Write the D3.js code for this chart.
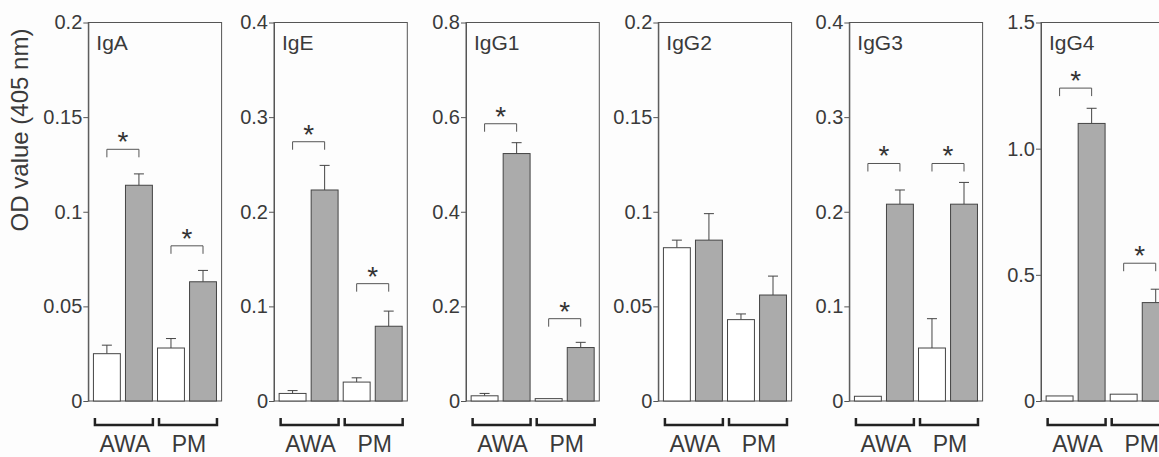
<!DOCTYPE html>
<html>
<head>
<meta charset="utf-8">
<script src="https://cdn.jsdelivr.net/npm/d3@7"></script>
<style>
  html, body { margin: 0; padding: 0; background: #fdfdfd; overflow: hidden; }
  svg { display: block; font-family: Arial, "Liberation Sans", sans-serif; }
</style>
</head>
<body>
<div id="chart"></div>
<script>
// Data
const panels = ['IgA', 'IgE', 'IgG1', 'IgG2', 'IgG3', 'IgG4'];
const groups = ['AWA', 'PM'];
const yMax = [0.2, 0.4, 0.8, 0.2, 0.4, 1.5];
const tickValues = [
  [0, 0.05, 0.1, 0.15, 0.2],
  [0, 0.1, 0.2, 0.3, 0.4],
  [0, 0.2, 0.4, 0.6, 0.8],
  [0, 0.05, 0.1, 0.15, 0.2],
  [0, 0.1, 0.2, 0.3, 0.4],
  [0, 0.5, 1.0, 1.5]
];
const tickLabels = [
  ['0', '0.05', '0.1', '0.15', '0.2'],
  ['0', '0.1', '0.2', '0.3', '0.4'],
  ['0', '0.2', '0.4', '0.6', '0.8'],
  ['0', '0.05', '0.1', '0.15', '0.2'],
  ['0', '0.1', '0.2', '0.3', '0.4'],
  ['0', '0.5', '1.0', '1.5']
];
// white bars (control), per panel: [AWA, PM]
const controlMean = [[0.025, 0.028], [0.008, 0.020], [0.011, 0.005], [0.081, 0.043], [0.005, 0.056], [0.020, 0.027]];
const controlErr  = [[0.0045, 0.005], [0.003, 0.0045], [0.005, 0], [0.004, 0.003], [0, 0.031], [0, 0]];
// grey bars (exposed), per panel: [AWA, PM]
const exposedMean = [[0.114, 0.063], [0.223, 0.079], [0.523, 0.113], [0.085, 0.056], [0.208, 0.208], [1.10, 0.39]];
const exposedErr  = [[0.006, 0.006], [0.026, 0.016], [0.023, 0.011], [0.014, 0.010], [0.015, 0.023], [0.06, 0.053]];
// significance bracket level (axis units), null = none
const sigLevel = [[0.133, 0.082], [0.274, 0.124], [0.586, 0.174], [null, null], [0.251, 0.251], [1.24, 0.546]];

const W = 1159, H = 457;
const panelX = [88.3, 274, 466, 658.3, 849.3, 1041];
const panelW = 133.3;
const plotTop = 22.5, plotBottom = 401;

const svg = d3.select('#chart').append('svg')
  .attr('width', W)
  .attr('height', H);

// Y axis title
svg.append('text')
  .attr('transform', `translate(28,130) rotate(-90)`)
  .attr('text-anchor', 'middle')
  .attr('fill', '#3a3a3a')
  .style('font-size', '24px')
  .text('OD value (405 nm)');

const slots = ['AWA-c', 'AWA-e', 'PM-c', 'PM-e'];

panels.forEach((name, p) => {
  const g = svg.append('g').attr('transform', `translate(${panelX[p]},0)`);

  const x = d3.scaleBand()
    .domain(slots)
    .range([0, panelW])
    .paddingInner(0.16)
    .paddingOuter(0.16);

  const y = d3.scaleLinear()
    .domain([0, yMax[p]])
    .range([plotBottom, plotTop]);

  // Box
  g.append('rect')
    .attr('x', 0)
    .attr('y', plotTop)
    .attr('width', panelW)
    .attr('height', plotBottom - plotTop)
    .attr('fill', 'none')
    .attr('stroke', '#555')
    .attr('stroke-width', 1);

  // Y axis
  const axis = g.append('g')
    .call(d3.axisLeft(y)
      .tickValues(tickValues[p])
      .tickFormat((d, i) => tickLabels[p][i])
      .tickSize(5)
      .tickSizeOuter(0)
      .tickPadding(1));
  axis.select('.domain').attr('stroke', '#555');
  axis.selectAll('.tick line').attr('stroke', '#555');
  axis.selectAll('.tick text')
    .attr('fill', '#3a3a3a')
    .style('font-size', '20px')
    .style('font-family', 'Arial, "Liberation Sans", sans-serif');

  // Panel title
  g.append('text')
    .attr('x', 8)
    .attr('y', plotTop + 27)
    .attr('fill', '#3a3a3a')
    .style('font-size', '21px')
    .text(name);

  // Bars
  const bars = [];
  groups.forEach((grp, k) => {
    bars.push({ slot: grp + '-c', v: controlMean[p][k], e: controlErr[p][k], fill: '#ffffff' });
    bars.push({ slot: grp + '-e', v: exposedMean[p][k], e: exposedErr[p][k], fill: '#ababab' });
  });

  // Error bars (drawn behind bars)
  const eb = g.selectAll('.err')
    .data(bars.filter(d => d.e > 0))
    .join('g')
    .attr('class', 'err');
  eb.append('line')
    .attr('x1', d => x(d.slot) + x.bandwidth() / 2)
    .attr('x2', d => x(d.slot) + x.bandwidth() / 2)
    .attr('y1', d => y(d.v))
    .attr('y2', d => y(d.v + d.e))
    .attr('stroke', '#444');
  eb.append('line')
    .attr('x1', d => x(d.slot) + x.bandwidth() / 2 - 5)
    .attr('x2', d => x(d.slot) + x.bandwidth() / 2 + 5)
    .attr('y1', d => y(d.v + d.e))
    .attr('y2', d => y(d.v + d.e))
    .attr('stroke', '#444');

  g.selectAll('.bar')
    .data(bars)
    .join('rect')
    .attr('class', 'bar')
    .attr('x', d => x(d.slot))
    .attr('y', d => y(d.v))
    .attr('width', x.bandwidth())
    .attr('height', d => y(0) - y(d.v))
    .attr('fill', d => d.fill)
    .attr('stroke', '#444')
    .attr('stroke-width', 1);

  // Significance brackets
  groups.forEach((grp, k) => {
    const lvl = sigLevel[p][k];
    if (lvl == null) return;
    const x1 = x(grp + '-c') + x.bandwidth() / 2;
    const x2 = x(grp + '-e') + x.bandwidth() / 2;
    const yy = y(lvl);
    g.append('path')
      .attr('d', `M${x1},${yy + 8}V${yy}H${x2}V${yy + 8}`)
      .attr('fill', 'none')
      .attr('stroke', '#555')
      .attr('stroke-width', 1);
    g.append('text')
      .attr('x', (x1 + x2) / 2)
      .attr('y', yy + 2)
      .attr('text-anchor', 'middle')
      .attr('fill', '#333')
      .style('font-size', '28px')
      .text('*');
  });

  // Group brackets and labels under the axis
  groups.forEach(grp => {
    const gx1 = x(grp + '-c') + 1.5;
    const gx2 = x(grp + '-e') + x.bandwidth() + 0.5;
    g.append('path')
      .attr('d', `M${gx1},418V425H${gx2}V418`)
      .attr('fill', 'none')
      .attr('stroke', '#222')
      .attr('stroke-width', 2.5);
    g.append('text')
      .attr('x', (gx1 + gx2) / 2 + 1)
      .attr('y', 452)
      .attr('text-anchor', 'middle')
      .attr('fill', '#3a3a3a')
      .style('font-size', '23px')
      .text(grp);
  });
});
</script>
</body>
</html>
